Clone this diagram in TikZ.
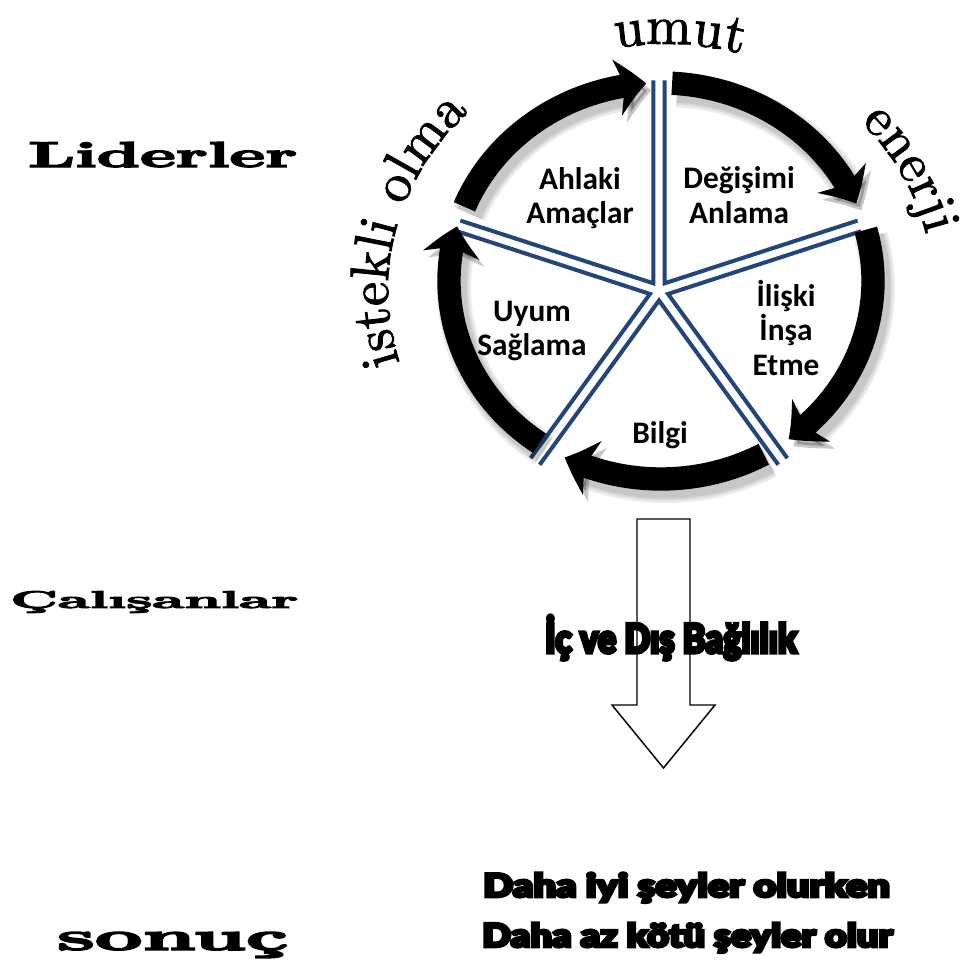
\documentclass[tikz,border=0pt]{standalone}
\usepackage{fontspec}
\usepackage{graphicx}
\usetikzlibrary{arrows.meta,bending,calc,decorations.text}
\newfontfamily\calib{Carlito}
\newfontfamily\impactf{Lato Black}
\newfontfamily\lmheavy{lmroman10-bold.otf}
\newfontfamily\lmarc{lmroman10-regular.otf}
\definecolor{spokeblue}{HTML}{24457A}
\newcommand\arcfont{\lmarc\fontsize{41}{41}\selectfont\special{pdf:literal direct 2 Tr 0.7 w}}
\newcommand\heavytext[2]{\special{pdf:literal direct 2 Tr #1 w}#2\special{pdf:literal direct 0 Tr}}
\begin{document}
\begin{tikzpicture}[x=0.75pt,y=0.75pt,
  spoke/.style={draw=spokeblue, line width=3pt, line join=miter},
  ringseg/.style={line width=17.5pt, -{Stealth[length=22pt,width=42pt,inset=6pt,bend]}},
  ringshadow/.style={line width=#1, black, opacity=0.08, -{Stealth[length=22pt,width=42pt,inset=6pt,bend]}},
  sector/.style={font=\calib\bfseries\fontsize{23.5}{26}\selectfont, align=center, inner sep=0pt},
  plain/.style={inner sep=0pt},
  arctext/.style={decorate, decoration={text along path, text align=center, text={|\arcfont|#1}}}]
\fill[white] (0,0) rectangle (970,-970);
\useasboundingbox (0,0) rectangle (970,-970);
\coordinate (O) at (659,-291);
\coordinate (Or) at (661,-281);
\coordinate (Ot) at (665,-290);
% exploded pie wedges
\foreach \b in {54,-18,-90,-162,126}{
  \draw[spoke] ($(O)+(\b:9.5)+(\b+36:203)$) -- ($(O)+(\b:9.5)$) -- ($(O)+(\b:9.5)+(\b-36:203)$);
}
% ring shadow
\foreach \w in {34,29,25}{
  \foreach \s/\e in {158/94, 87/23, 15/-53, -61/-117, -125/-196}{
    \draw[ringshadow=\w*0.75pt] ($(Or)+(5,-7)+(\s:212 and 198)$) arc[start angle=\s, end angle=\e, x radius=212, y radius=198];
  }
}
% ring segments
\foreach \s/\e in {158/94, 87/23, 15/-53, -61/-117, -125/-196}{
  \draw[ringseg] ($(Or)+(\s:212 and 198)$) arc[start angle=\s, end angle=\e, x radius=212, y radius=198];
}
% sector labels
\node[sector] (ahlaki) at (580,-198) {Ahlaki\\Amaçlar};
\node[sector] (degisim) at (739,-195) {Değişimi\\Anlama};
\node[sector] (iliski) at (786,-328) {İlişki\\İnşa\\Etme};
\node[sector] (uyum) at (532,-331) {Uyum\\Sağlama};
\node[sector] (bilgi) at (660,-435) {Bilgi};
% down arrow
\draw[line width=1.1pt, fill=white] (637,-519) -- (690,-519) -- (690,-705) -- (715,-705) -- (663.5,-768) -- (612,-705) -- (637,-705) -- cycle;
\node[plain, anchor=base] (bag) at (671,-653) {\resizebox{189pt}{28.5pt}{\heavytext{0.8}{\impactf İç ve Dış Bağlılık}}};
% left labels
\node[plain, anchor=base west] (lider) at (28,-167) {\resizebox{201.75pt}{18.75pt}{\heavytext{0.35}{\lmheavy Liderler}}};
\node[plain, anchor=base west] (calis) at (10,-608) {\resizebox{216pt}{12.75pt}{\heavytext{0.35}{\lmheavy Çalışanlar}}};
\node[plain, anchor=base west] (sonuc) at (57,-950) {\resizebox{173.25pt}{13.5pt}{\heavytext{0.35}{\lmheavy sonuç}}};
% result lines
\node[plain, anchor=base] (daha1) at (686.5,-897) {\resizebox{305pt}{18.3pt}{\heavytext{0.8}{\impactf Daha iyi şeyler olurken}}};
\node[plain, anchor=base] (daha2) at (687.5,-947) {\resizebox{308pt}{18.3pt}{\heavytext{0.8}{\impactf Daha az kötü şeyler olur}}};
% curved texts
\path[arctext={istekli olma}] ($(Ot)+(201:277 and 252)$) arc[start angle=201, end angle=131, x radius=277, y radius=252];
\path[arctext={enerji}] ($(Ot)+(44:268 and 246)$) arc[start angle=44, end angle=12, x radius=268, y radius=246];
\path[arctext={umut}] ($(Ot)+(100:276 and 246)$) arc[start angle=100, end angle=74, x radius=276, y radius=246];
\end{tikzpicture}
\end{document}
